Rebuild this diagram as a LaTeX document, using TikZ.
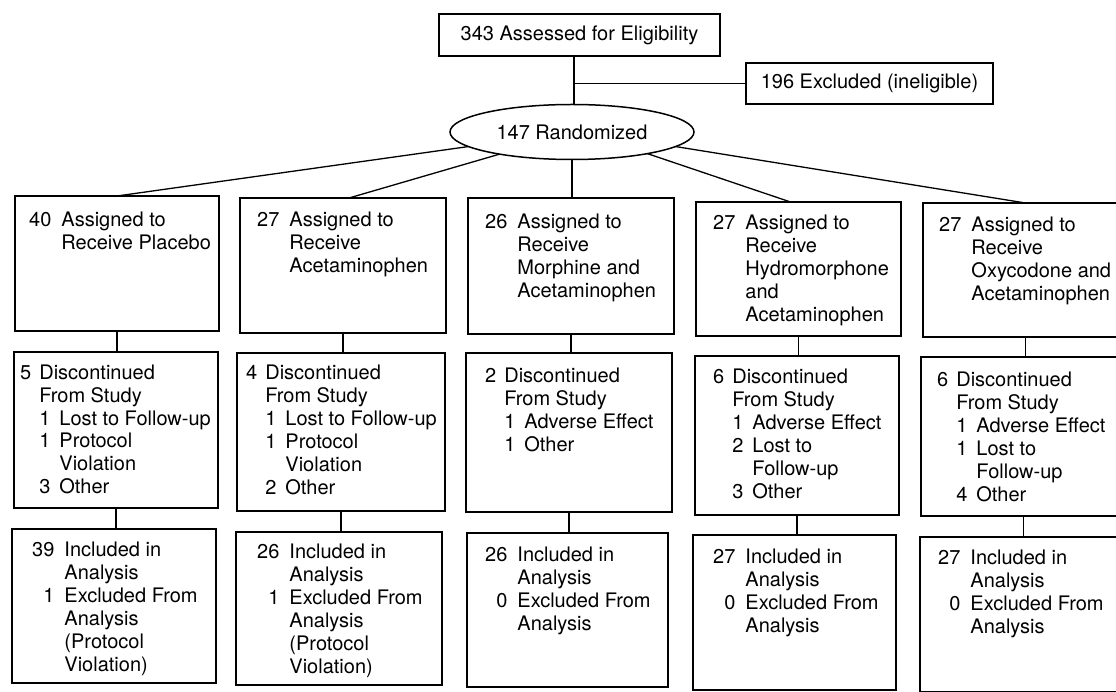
\documentclass[tikz,border=0pt]{standalone}
\usepackage{fontspec}
\setmainfont{TeX Gyre Heros}
\usetikzlibrary{shapes.geometric}
\newcommand\boxfont{\fontsize{20}{23}\selectfont}
\newcommand\mc[1]{\multicolumn{2}{@{}l@{}}{#1}}
\newenvironment{rowA}{\begin{tabular}[t]{@{}r@{\hspace{10pt}}l@{}}}{\end{tabular}}
\newenvironment{rowB}{\begin{tabular}[t]{@{}l@{\hspace{8pt}}l@{\hspace{9pt}}l@{}}}{\end{tabular}}
\begin{document}
\begin{tikzpicture}[x=1pt,y=-1pt,
  box/.style={draw, line width=1.5pt, inner sep=0pt, outer sep=0pt},
  txt/.style={inner sep=0pt, anchor=base west, font=\boxfont},
  link/.style={line width=1.3pt}]
\useasboundingbox (0,0) rectangle (1116,692);
\clip (0,0) rectangle (1116,692);
\fill[white] (0,0) rectangle (1116,692);

% top part
\node[box, minimum width=281pt, minimum height=42pt, font=\boxfont] (top) at (579.5,35) {343 Assessed for Eligibility};
\node[box, minimum width=247pt, minimum height=41pt, font=\boxfont] (excl) at (869.5,83.5) {196 Excluded (ineligible)};
\node[box, ellipse, minimum width=244pt, minimum height=55pt, font=\boxfont] (rand) at (572,132) {147 Randomized};

% row 1 boxes
\node[box, minimum width=204pt, minimum height=135pt] (b1) at (117,263.5) {};
\node[box, minimum width=206pt, minimum height=135pt] (b2) at (343,265.5) {};
\node[box, minimum width=206pt, minimum height=136pt] (b3) at (571,266) {};
\node[box, minimum width=205pt, minimum height=134pt] (b4) at (798.5,269) {};
\node[box, minimum width=205pt, minimum height=134pt] (b5) at (1025.5,270) {};
% row 2 boxes
\node[box, minimum width=204pt, minimum height=156pt] (c1) at (116,430) {};
\node[box, minimum width=208pt, minimum height=158pt] (c2) at (341,432) {};
\node[box, minimum width=206pt, minimum height=159pt] (c3) at (569,432.5) {};
\node[box, minimum width=204pt, minimum height=159pt] (c4) at (797,435.5) {};
\node[box, minimum width=205pt, minimum height=159pt] (c5) at (1023.5,436.5) {};
% row 3 boxes
\node[box, minimum width=204pt, minimum height=154pt] (d1) at (114,606) {};
\node[box, minimum width=206pt, minimum height=153pt] (d2) at (339,608.5) {};
\node[box, minimum width=201pt, minimum height=154pt] (d3) at (567.5,610) {};
\node[box, minimum width=203pt, minimum height=155pt] (d4) at (794.5,612.5) {};
\node[box, minimum width=205pt, minimum height=155pt] (d5) at (1022.5,614.5) {};

% row 1 texts
\node[txt] (tb1) at (29,227) {\begin{rowA}40 & Assigned to\\ & Receive Placebo\end{rowA}};
\node[txt] (tb2) at (257,227) {\begin{rowA}27 & Assigned to\\ & Receive\\ & Acetaminophen\end{rowA}};
\node[txt] (tb3) at (485,229) {\begin{rowA}26 & Assigned to\\ & Receive\\ & Morphine and\\ & Acetaminophen\end{rowA}};
\node[txt] (tb4) at (713,230) {\begin{rowA}27 & Assigned to\\ & Receive\\ & Hydromorphone\\ & and\\ & Acetaminophen\end{rowA}};
\node[txt] (tb5) at (939,232) {\begin{rowA}27 & Assigned to\\ & Receive\\ & Oxycodone and\\ & Acetaminophen\end{rowA}};

% row 2 texts
\node[txt] (tc1) at (20,379) {\begin{rowB}5 & \mc{Discontinued}\\ & \mc{From Study}\\ & 1 & Lost to Follow-up\\ & 1 & Protocol\\ & & Violation\\ & 3 & Other\end{rowB}};
\node[txt] (tc2) at (246,380) {\begin{rowB}4 & \mc{Discontinued}\\ & \mc{From Study}\\ & 1 & Lost to Follow-up\\ & 1 & Protocol\\ & & Violation\\ & 2 & Other\end{rowB}};
\node[txt] (tc3) at (485,382) {\begin{rowB}2 & \mc{Discontinued}\\ & \mc{From Study}\\ & 1 & Adverse Effect\\ & 1 & Other\end{rowB}};
\node[txt] (tc4) at (713,384) {\begin{rowB}6 & \mc{Discontinued}\\ & \mc{From Study}\\ & 1 & Adverse Effect\\ & 2 & Lost to\\ & & Follow-up\\ & 3 & Other\end{rowB}};
\node[txt] (tc5) at (937,386) {\begin{rowB}6 & \mc{Discontinued}\\ & \mc{From Study}\\ & 1 & Adverse Effect\\ & 1 & Lost to\\ & & Follow-up\\ & 4 & Other\end{rowB}};

% row 3 texts
\node[txt] (td1) at (32,556) {\begin{rowA}39 & Included in\\ & Analysis\\ 1 & Excluded From\\ & Analysis\\ & (Protocol\\ & Violation)\end{rowA}};
\node[txt] (td2) at (257,558) {\begin{rowA}26 & Included in\\ & Analysis\\ 1 & Excluded From\\ & Analysis\\ & (Protocol\\ & Violation)\end{rowA}};
\node[txt] (td3) at (485,561) {\begin{rowA}26 & Included in\\ & Analysis\\ 0 & Excluded From\\ & Analysis\end{rowA}};
\node[txt] (td4) at (713,563) {\begin{rowA}27 & Included in\\ & Analysis\\ 0 & Excluded From\\ & Analysis\end{rowA}};
\node[txt] (td5) at (938,564) {\begin{rowA}27 & Included in\\ & Analysis\\ 0 & Excluded From\\ & Analysis\end{rowA}};

% connectors
\draw[link] (top.south -| rand.north) ++(2,0) coordinate (vt) -- (vt |- rand.north);
\draw[link] (vt |- excl.west) -- (excl.west);
\draw[link] (rand.188) -- (b1.north);
\draw[link] (rand.197) -- ([xshift=6pt]b2.north);
\draw[link] (rand.south) -- (rand.south |- b3.north);
\draw[link] (rand.344) -- ([xshift=-8pt]b4.north);
\draw[link] (rand.352) -- (b5.north);
\foreach \u/\v in {b1/c1,b2/c2,b3/c3,b4/c4,b5/c5,c1/d1,c2/d2,c3/d3,c4/d4,c5/d5}
  \draw[link] (\u.south) -- (\u.south |- \v.north);
\end{tikzpicture}
\end{document}
